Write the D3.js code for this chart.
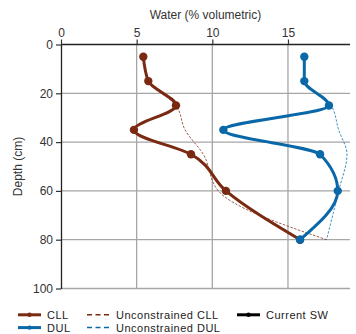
<!DOCTYPE html>
<html>
<head>
<meta charset="utf-8">
<script src="https://cdn.jsdelivr.net/npm/d3@7"></script>
<style>
  html, body { margin: 0; padding: 0; background: #fff; }
  svg { display: block; font-family: "Liberation Sans", Arial, sans-serif; }
</style>
</head>
<body>
<svg id="chart" width="356" height="334"></svg>
<script>
// Soil water profile: depth of each layer midpoint (cm)
const depths = [5, 15, 25, 35, 45, 60, 80];
// Crop lower limit and drained upper limit (% volumetric)
const cllValues = [5.44, 5.77, 7.6, 4.82, 8.59, 10.9, 15.8];
const dulValues = [16.08, 16.08, 17.71, 10.73, 17.12, 18.29, 15.8];
// Unconstrained estimates
const uCllValues = [5.44, 5.77, 7.6, 8.2, 9.4, 10.4, 17.55];
const uDulValues = [16.08, 16.08, 17.85, 18.35, 18.9, 18.35, 17.55];

const xTicks = [0, 5, 10, 15];
const yTicks = [0, 20, 40, 60, 80, 100];

const legendItems = [
  { name: "CLL", color: "#7a2a12", dashed: false, row: 0, col: 0 },
  { name: "Unconstrained CLL", color: "#7a2a12", dashed: true, row: 0, col: 1 },
  { name: "Current SW", color: "#000000", dashed: false, row: 0, col: 2 },
  { name: "DUL", color: "#0a68a8", dashed: false, row: 1, col: 0 },
  { name: "Unconstrained DUL", color: "#0a68a8", dashed: true, row: 1, col: 1 }
];

const svg = d3.select("#chart");
const x = d3.scaleLinear().domain([0, 19.1]).range([61, 350]);
const y = d3.scaleLinear().domain([0, 100]).range([44.5, 288.5]);

// Grid
const grid = svg.append("g").attr("stroke", "#a6a6a6").attr("stroke-width", 1.3);
grid.selectAll("line.v").data(xTicks.filter(t => t > 0)).join("line")
  .attr("x1", d => x(d)).attr("x2", d => x(d))
  .attr("y1", y(0)).attr("y2", y(100));
grid.selectAll("line.h").data(yTicks.filter(t => t > 0)).join("line")
  .attr("x1", x(0)).attr("x2", x.range()[1])
  .attr("y1", d => y(d)).attr("y2", d => y(d));

// Axes
const xAxis = svg.append("g").attr("transform", `translate(0,${y(0)})`)
  .call(d3.axisTop(x).tickValues(xTicks).tickSize(5).tickPadding(3).tickSizeOuter(0));
const yAxis = svg.append("g").attr("transform", `translate(${x(0)},0)`)
  .call(d3.axisLeft(y).tickValues(yTicks).tickSize(5).tickPadding(3).tickSizeOuter(0));
[xAxis, yAxis].forEach(a => {
  a.select(".domain").attr("stroke", "#222").attr("stroke-width", 1.3);
  a.selectAll(".tick line").attr("stroke", "#333").attr("stroke-width", 1.2);
  a.selectAll(".tick text").attr("fill", "#333").attr("font-size", 12)
    .attr("font-family", "Liberation Sans, Arial, sans-serif");
});
xAxis.select(".domain").attr("d", `M${x(0)},0H${x.range()[1]}`);

svg.append("text").attr("x", (x(0) + x.range()[1]) / 2).attr("y", 19)
  .attr("text-anchor", "middle").attr("font-size", 12).attr("fill", "#333")
  .text("Water (% volumetric)");
svg.append("text")
  .attr("transform", `translate(22,${(y(0) + y(100)) / 2}) rotate(-90)`)
  .attr("text-anchor", "middle").attr("font-size", 12).attr("fill", "#333")
  .text("Depth (cm)");

const line = vals => d3.line()
  .x((d, i) => x(vals[i])).y(d => y(d))
  .curve(d3.curveMonotoneY)(depths);

// Unconstrained (dashed)
[[uCllValues, "#7a2a12"], [uDulValues, "#0a68a8"]].forEach(([vals, c]) => {
  svg.append("path").attr("d", line(vals)).attr("fill", "none")
    .attr("stroke", c).attr("stroke-width", 1).attr("stroke-opacity", 0.75)
    .attr("stroke-dasharray", "2.5,1.5");
});

// Measured series
[[cllValues, "#7a2a12"], [dulValues, "#0a68a8"]].forEach(([vals, c]) => {
  svg.append("path").attr("d", line(vals)).attr("fill", "none")
    .attr("stroke", c).attr("stroke-width", 3).attr("stroke-linejoin", "round");
  svg.append("g").selectAll("circle").data(depths).join("circle")
    .attr("cx", (d, i) => x(vals[i])).attr("cy", d => y(d))
    .attr("r", 4.2).attr("fill", c);
});

// Legend
const colX = [18, 87, 237];
const rowY = [314.8, 327.6];
const lg = svg.append("g");
legendItems.forEach(it => {
  const x0 = colX[it.col], yy = rowY[it.row];
  lg.append("line").attr("x1", x0).attr("x2", x0 + 23).attr("y1", yy).attr("y2", yy)
    .attr("stroke", it.color).attr("stroke-width", it.dashed ? 1.5 : 3)
    .attr("stroke-dasharray", it.dashed ? "5,3.5" : null);
  if (!it.dashed) {
    lg.append("circle").attr("cx", x0 + 11.5).attr("cy", yy).attr("r", 2.2).attr("fill", it.color);
  }
  lg.append("text").attr("x", x0 + 29).attr("y", yy + 4)
    .attr("font-size", 11).attr("letter-spacing", 0.5)
    .attr("fill", "#222").text(it.name);
});
</script>
</body>
</html>
